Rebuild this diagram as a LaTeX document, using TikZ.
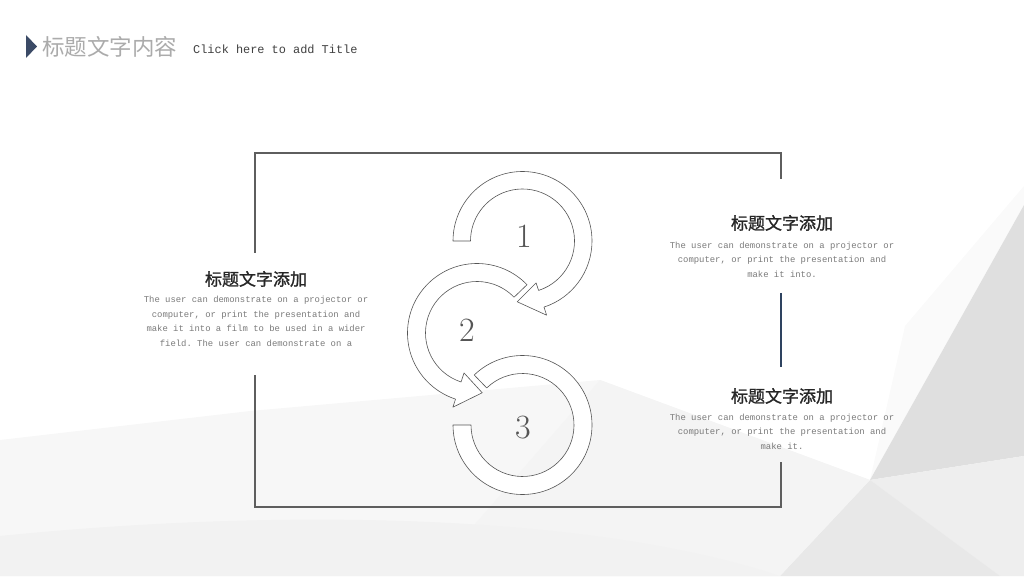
\documentclass[tikz,border=0pt]{standalone}
\usepackage{fontspec}
\setmonofont{Liberation Mono}
\newfontfamily\cjk{Noto Sans CJK SC}
\newfontfamily\cjkhead[FakeBold=1.2]{Noto Sans CJK SC}
\usetikzlibrary{positioning}

\definecolor{framegray}{HTML}{5E5E5E}
\definecolor{barnavy}{HTML}{2E4360}
\definecolor{bodygray}{HTML}{7A7A7A}
\definecolor{titlegray}{HTML}{ABABAB}
\definecolor{bandline}{HTML}{555555}
\definecolor{marknavy}{HTML}{3B4A66}

\begin{document}
\begin{tikzpicture}[x=1pt,y=1pt,
  frame/.style={framegray, line width=2pt},
  band/.style={bandline, line width=0.6pt, fill=white, line join=round},
  num/.style={font=\fontsize{34}{34}\selectfont, text=bandline},
  head/.style={font=\cjkhead\fontsize{17}{17}\selectfont, text=black!85, inner sep=0pt},
  body/.style={font=\ttfamily\fontsize{8.9}{14.5}\selectfont, text=bodygray, align=center, inner sep=0pt}]

\useasboundingbox (0,0) rectangle (1024,576);

% background facets
\fill [gray!6] (0,136) -- (250,165) -- (600,196) -- (870,96) -- (1024,106) -- (1024,0) -- (0,0) -- cycle;
\fill [gray!4] (1024,390) -- (905,250) -- (870,96) -- (1024,371) -- cycle;
\fill [gray!25] (870,96) -- (1024,371) -- (1024,120) -- cycle;
\fill [gray!13] (870,96) -- (1024,120) -- (1024,0) -- (1000,0) -- cycle;
\fill [gray!18] (870,96) -- (1000,0) -- (780,0) -- cycle;
\fill [gray!9] (600,196) -- (870,96) -- (780,0) -- (430,0) -- cycle;
\fill [gray!10] (0,40) .. controls (300,70) and (600,60) .. (780,0) -- (0,0) -- cycle;

% title
\fill [marknavy] (26,541) -- (37,529.5) -- (26,518) -- cycle;
\node [anchor=west, inner sep=0pt, font=\cjk\fontsize{22.5}{22.5}\selectfont, text=titlegray] (title) at (42,529) {标题文字内容};
\node [anchor=base west, inner sep=0pt, font=\ttfamily\fontsize{11.9}{12}\selectfont, text=black!75] (subtitle) at (193,522) {Click here to add Title};

% frame
\coordinate (TL) at (255,423);
\coordinate (TR) at (780.5,423);
\coordinate (BL) at (255,69);
\coordinate (BR) at (780.5,69);
\draw [frame] (255,323) -- (TL) -- (TR) -- (780.5,397);
\draw [frame] (255,201) -- (BL) -- (BR) -- (780.5,114);
\draw [barnavy, line width=2pt] (781,283) -- (781,209);

% arrow 3
\begin{scope}[shift={(522.5,151)}]
\draw [band] (180:69.5) arc[start angle=180, end angle=494, radius=69.5]
  -- (494:51.5) arc[start angle=494, end angle=180, radius=51.5] -- cycle;
\end{scope}

% arrow 2
\begin{scope}[shift={(477,243)}]
\draw [band] (44:69.5) arc[start angle=44, end angle=252, radius=69.5]
  -- (252:78) -- (275:60) -- (252:42) -- (252:51.5)
  arc[start angle=252, end angle=44, radius=51.5] -- cycle;
\end{scope}

% arrow 1
\begin{scope}[shift={(522.5,335)}]
\draw [band] (180:69.5) arc[start angle=180, end angle=-72, radius=69.5]
  -- (-72:78) -- (-95:61) -- (-72:44) -- (-72:52)
  arc[start angle=-72, end angle=180, radius=52] -- cycle;
\end{scope}

\node [num] (one) at (524,340) {1};
\node [num] (two) at (467,246) {2};
\node [num] (three) at (523,148) {3};

% text blocks
\node [head] (lefthead) at (256,297) {标题文字添加};
\node [body] (leftbody) at (256,254.5) {The user can demonstrate on a projector or\\computer, or print the presentation and\\make it into a film to be used in a wider\\field. The user can demonstrate on a};

\node [head] (tophead) at (782,353) {标题文字添加};
\node [body] (topbody) at (782,316.5) {The user can demonstrate on a projector or\\computer, or print the presentation and\\make it into.};

\node [head] (lowhead) at (782,180) {标题文字添加};
\node [body] (lowbody) at (782,144.5) {The user can demonstrate on a projector or\\computer, or print the presentation and\\make it.};

\end{tikzpicture}
\end{document}
